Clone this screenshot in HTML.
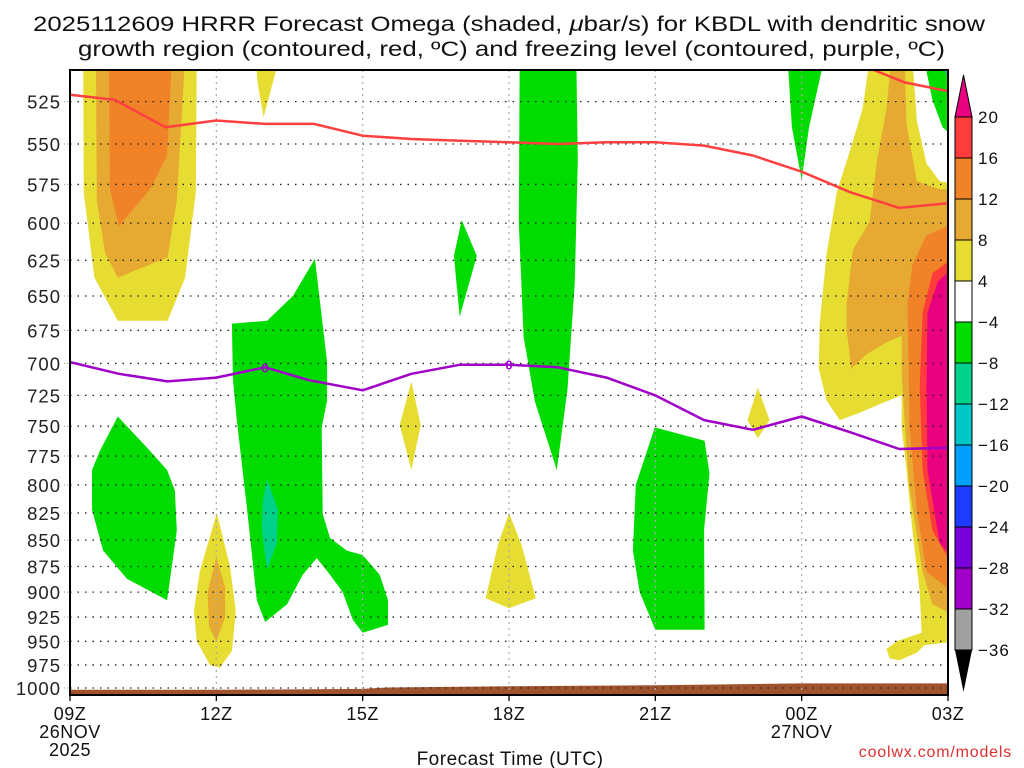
<!DOCTYPE html>
<html><head><meta charset="utf-8"><style>
html,body{margin:0;padding:0;background:#fff;}
svg{display:block;font-family:"Liberation Sans",sans-serif;}
</style></head><body>
<svg id="chart" width="1024" height="768" viewBox="0 0 1024 768" xmlns="http://www.w3.org/2000/svg">
<text x="33" y="31" font-size="21" textLength="952" lengthAdjust="spacingAndGlyphs" fill="#111">2025112609 HRRR Forecast Omega (shaded, <tspan font-style="italic">μ</tspan>bar/s) for KBDL with dendritic snow</text>
<text x="78" y="56" font-size="21" textLength="867" lengthAdjust="spacingAndGlyphs" fill="#111">growth region (contoured, red, ºC) and freezing level (contoured, purple, ºC)</text>
<defs><clipPath id="plotclip"><rect x="70" y="70" width="878" height="625"/></clipPath></defs>
<g id="fills" clip-path="url(#plotclip)"></g>
<g id="grid"></g>
<g id="lines" clip-path="url(#plotclip)"></g>
<g id="axes"></g>
<g id="cbar"></g>
<text x="510" y="765" font-size="19" text-anchor="middle" fill="#111" letter-spacing="0.5">Forecast Time (UTC)</text>
<text x="1012" y="757" font-size="16" text-anchor="end" fill="#e03030" letter-spacing="0.8">coolwx.com/models</text>
</svg>
<script>
// ---- data ----
const xTickHours = [0,3,6,9,12,15,18];
const xTickLabels = ["09Z","12Z","15Z","18Z","21Z","00Z","03Z"];
const pressureLevels = [525,550,575,600,625,650,675,700,725,750,775,800,825,850,875,900,925,950,975,1000];
const cbarLevels = [20,16,12,8,4,-4,-8,-12,-16,-20,-24,-28,-32,-36];
const cbarColors = ["#ff3c3c","#f08228","#e6aa32","#e6dc32","#ffffff","#00dc00","#00d28c","#00c8c8","#00a0ff","#1e3cff","#7800dc","#a000c8","#a0a0a0"];
const freezeHours = [0,1,2,3,4,4.9,6,7,8,9,10,11,12,13,14,15,16,17,18];
const freezeP = [699,708,714,711,703,713,721,708,701,701,703,711,725,745,753,742,755,769,768];
const dgzHours = [0,0.92,1.96,3,4,5,6,7,8,9,10,11,12,13,14,15,16,17,18];
const dgzP = [521,524,540,536,538,538,545,547,548,549,550,549,549,551,557,567,580,590,587];
const dgzTopHours = [16.2,17.11,18];
const dgzTopP = [504,514,519];
const terrainHours = [0,3,6,6.5,9,12,15,18];
const terrainP = [1002,1002,1001,999.5,998,997,995,995];
// shaded omega regions: [colour, [[hour, hPa], ...]]
const Y="#e6dc32", LO="#e6aa32", OR="#f08228", RD="#ff3c3c", MG="#e8007f", GR="#00dc00", TG="#00d28c", CY="#00c8c8";
const regions = [
 [Y,[[0.27,500],[0.28,580],[0.5,637],[0.98,668],[2.0,668],[2.36,637],[2.58,580],[2.6,500]]],
 [LO,[[0.53,500],[0.55,585],[0.72,620],[0.98,637],[2.0,623],[2.19,585],[2.36,500]]],
 [OR,[[0.8,500],[0.82,578],[1.0,602],[1.64,578],[1.99,557],[2.09,500]]],
 [Y,[[3.8,500],[3.85,515],[3.97,534],[4.12,518],[4.3,500]]],
 [GR,[[0.98,742],[0.62,770],[0.45,787],[0.45,822],[0.68,860],[1.17,887],[1.99,908],[2.19,841],[2.15,805],[1.99,787],[1.58,768]]],
 [Y,[[3.01,825],[2.66,880],[2.54,919],[2.6,950],[2.87,975],[3.07,978],[3.32,960],[3.4,919],[3.28,875]]],
 [LO,[[3.0,866],[2.82,900],[2.85,935],[3.0,950],[3.18,925],[3.18,895]]],
 [GR,[[3.32,670],[4.04,668],[4.57,650],[5.02,624],[5.27,699],[5.27,729],[5.16,751],[5.18,826],[5.33,848],[5.68,860],[6.0,864],[6.35,883],[6.52,908],[6.52,933],[6.0,941],[5.8,928],[5.59,900],[5.33,883],[5.06,867],[4.77,883],[4.45,912],[4.0,930],[3.83,908],[3.63,822],[3.42,745],[3.34,712]]],
 [TG,[[4.04,795],[4.26,822],[4.24,853],[4.04,878],[3.93,840],[3.95,815]]],
 [GR,[[8.03,598],[8.34,622],[7.99,665],[7.87,622]]],
 [Y,[[7.0,714],[7.19,749],[7.0,787],[6.76,749]]],
 [Y,[[9.0,825],[8.77,855],[8.52,906],[9.0,916],[9.55,906],[9.26,855]]],
 [GR,[[9.22,500],[9.2,600],[9.3,680],[9.53,730],[9.98,787],[10.2,720],[10.35,640],[10.41,560],[10.38,500]]],
 [GR,[[11.99,751],[13.01,762],[13.11,790],[13.0,840],[13.01,938],[12.0,938],[11.68,900],[11.54,860],[11.6,800]]],
 [Y,[[14.1,719],[14.34,745],[14.1,760],[13.89,745]]],
 [GR,[[14.71,500],[14.8,540],[15.0,572],[15.15,540],[15.47,500]]],
 [Y,[[16.4,500],[16.25,529],[15.98,555],[15.72,580],[15.51,621],[15.37,670],[15.35,704],[15.51,729],[15.78,745],[16.19,739],[16.6,732],[17.05,725],[17.05,751],[17.15,787],[17.27,841],[17.42,900],[17.46,941],[16.95,950],[16.74,958],[16.8,968],[17.0,970],[17.36,962],[17.52,954],[18.2,950],[18.2,575],[17.83,573],[17.56,562],[17.36,536],[17.27,500]]],
 [GR,[[17.5,500],[17.68,524],[17.89,540],[18.2,548],[18.2,500]]],
 [CY,[[17.79,500],[18.2,500],[18.2,522]]],
 [LO,[[16.84,500],[16.74,529],[16.54,561],[16.39,599],[16.05,618],[15.92,656],[15.92,674],[16.02,704],[16.33,693],[16.74,684],[17.05,679],[17.05,710],[17.2,800],[17.48,880],[17.68,912],[18.2,925],[18.2,578],[17.83,578],[17.36,573],[17.15,538],[17.11,500]]],
 [OR,[[18.2,599],[17.56,608],[17.27,628],[17.17,656],[17.21,751],[17.36,822],[17.56,880],[18.2,904]]],
 [RD,[[18.2,621],[17.68,634],[17.48,662],[17.42,718],[17.48,787],[17.68,841],[18.2,884]]],
 [MG,[[18.2,627],[17.79,640],[17.58,662],[17.56,718],[17.58,787],[17.83,853],[18.2,872]]]
];
// ---- axis functions ----
const X0=70, X1=948, PPH=(X1-X0)/18;
const xs = h => X0 + h*PPH;
const ys = p => 688 - 910*Math.log(1000/p);
const NS="http://www.w3.org/2000/svg";
function mk(tag, parent){ const e=document.createElementNS(NS,tag); parent.appendChild(e); return e; }
const fills=document.getElementById('fills'), grid=document.getElementById('grid'), lines=document.getElementById('lines'), axes=document.getElementById('axes'), cbar=document.getElementById('cbar');

regions.forEach((r,i)=>{
  const pg=mk('polygon',fills);
  
  
  pg.setAttribute('fill',r[0]);
  pg.setAttribute('points',r[1].map(q=>xs(q[0]).toFixed(1)+','+ys(q[1]).toFixed(1)).join(' '));
});
// terrain
{
  let pts=terrainHours.map((h,i)=>xs(h).toFixed(1)+','+ys(terrainP[i]).toFixed(1));
  pts.push(xs(18)+','+700, xs(0)+','+700);
  const t=mk('polygon',fills);
  
  
  t.setAttribute('fill','#a0522d');
  t.setAttribute('points',pts.join(' '));
}
// grid
pressureLevels.forEach(p=>{
  const l=mk('line',grid);
  
  
  l.setAttribute('x1',X0);l.setAttribute('x2',X1);l.setAttribute('y1',ys(p));l.setAttribute('y2',ys(p));
  l.setAttribute('stroke','#222');l.setAttribute('stroke-width','1.3');l.setAttribute('stroke-dasharray','1.5 6');
  const t=mk('text',axes);
  
  
  t.setAttribute('x',61);t.setAttribute('y',ys(p)+7);t.setAttribute('font-size','18.5');t.setAttribute('text-anchor','end');t.setAttribute('fill','#222');t.setAttribute('letter-spacing','1');
  t.textContent=p;
  const tk=mk('line',axes);
  
  
  tk.setAttribute('x1',64);tk.setAttribute('x2',70);tk.setAttribute('y1',ys(p));tk.setAttribute('y2',ys(p));tk.setAttribute('stroke','#999');tk.setAttribute('stroke-dasharray','1 2');
});
xTickHours.forEach((h,i)=>{
  if(i>0&&i<xTickHours.length-1){
    const l=mk('line',grid);
    
    
    l.setAttribute('x1',xs(h));l.setAttribute('x2',xs(h));l.setAttribute('y1',70);l.setAttribute('y2',695);
    l.setAttribute('stroke','#aaa');l.setAttribute('stroke-width','1.2');l.setAttribute('stroke-dasharray','2 4');
  }
  const tk=mk('line',axes);
  
  
  tk.setAttribute('x1',xs(h));tk.setAttribute('x2',xs(h));tk.setAttribute('y1',695);tk.setAttribute('y2',701);tk.setAttribute('stroke','#000');tk.setAttribute('stroke-width','1.3');
  const t=mk('text',axes);
  
  
  t.setAttribute('x',xs(h));t.setAttribute('y',720);t.setAttribute('font-size','18');t.setAttribute('text-anchor','middle');t.setAttribute('fill','#111');t.setAttribute('letter-spacing','0.5');
  t.textContent=xTickLabels[i];
});
[["26NOV",0,738],["2025",0,756],["27NOV",15,738]].forEach(d=>{
  const t=mk('text',axes);
  
  
  t.setAttribute('x',xs(d[1]));t.setAttribute('y',d[2]);t.setAttribute('font-size','18');t.setAttribute('text-anchor','middle');t.setAttribute('fill','#111');t.setAttribute('letter-spacing','0.5');
  t.textContent=d[0];
});
// lines
function poly(hs,ps,color,name){
  const pl=mk('polyline',lines);
  
  
  pl.setAttribute('fill','none');pl.setAttribute('stroke',color);pl.setAttribute('stroke-width','2.5');pl.setAttribute('stroke-linejoin','round');
  pl.setAttribute('points',hs.map((h,i)=>xs(h).toFixed(1)+','+ys(ps[i]).toFixed(1)).join(' '));
}
poly(dgzHours,dgzP,'#ff4040','dgz-contour-line');
poly(dgzTopHours,dgzTopP,'#ff4040','dgz-upper-contour-line');
poly(freezeHours,freezeP,'#a000c8','freezing-level-line');
[4,9].forEach(idx=>{
  const t=mk('text',lines);
  
  
  t.setAttribute('x',xs(freezeHours[idx]));t.setAttribute('y',ys(freezeP[idx])+5);t.setAttribute('font-size','13');t.setAttribute('font-weight','bold');t.setAttribute('text-anchor','middle');t.setAttribute('fill','#a000c8');
  t.textContent='0';
});
// frame
{
  const f=mk('rect',axes);
  
  
  f.setAttribute('x',70);f.setAttribute('y',70);f.setAttribute('width',878);f.setAttribute('height',625);f.setAttribute('fill','none');f.setAttribute('stroke','#000');f.setAttribute('stroke-width','2');
}
// colorbar
const CB_X=955, CB_W=17, CB_TOP=117, CB_STEP=41;
const cby = i => CB_TOP + i*CB_STEP;
cbarColors.forEach((c,i)=>{
  const r=mk('rect',cbar);
  
  
  r.setAttribute('x',CB_X);r.setAttribute('y',cby(i));r.setAttribute('width',CB_W);r.setAttribute('height',CB_STEP);r.setAttribute('fill',c);r.setAttribute('stroke','#000');r.setAttribute('stroke-width','1');
});
{
  const tt=mk('polygon',cbar);
  
  
  tt.setAttribute('points',`${CB_X},${cby(0)} ${CB_X+CB_W/2},${cby(0)-42} ${CB_X+CB_W},${cby(0)}`);tt.setAttribute('fill','#e8007f');tt.setAttribute('stroke','#000');
  const tb=mk('polygon',cbar);
  
  
  const yb=cby(cbarColors.length);
  tb.setAttribute('points',`${CB_X},${yb} ${CB_X+CB_W/2},${yb+42} ${CB_X+CB_W},${yb}`);tb.setAttribute('fill','#000');
}
cbarLevels.forEach((v,i)=>{
  const t=mk('text',cbar);
  
  
  t.setAttribute('x',978);t.setAttribute('y',cby(i)+6);t.setAttribute('font-size','17');t.setAttribute('fill','#111');t.setAttribute('letter-spacing','1');
  t.textContent=(v<0?'\u2212'+(-v):String(v));
});
</script>
</body></html>
